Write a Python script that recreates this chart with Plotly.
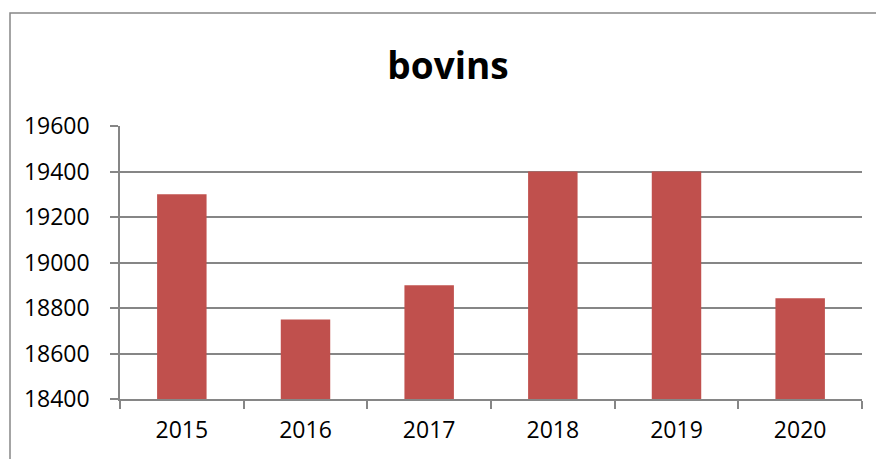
import plotly.graph_objects as go

# Data
years = ["2015", "2016", "2017", "2018", "2019", "2020"]
bovins = [19300, 18750, 18900, 19400, 19400, 18843]
y_ticks = [18400, 18600, 18800, 19000, 19200, 19400, 19600]

W, H = 876, 459
ML, MR, MT, MB = 120, 14, 126, 60
pw, ph = W - ML - MR, H - MT - MB

bar_color = "#C0504D"
grid_color = "#868686"
font_family = "Open Sans, Calibri, Carlito, Arial, sans-serif"

fig = go.Figure(
    go.Bar(
        x=years,
        y=bovins,
        marker=dict(color=bar_color, line=dict(width=0)),
        width=0.4,
    )
)

# Chart border (outer frame), in paper units relative to the plot area
x0 = (10 - ML) / pw
y1 = 1 + (MT - 13) / ph
x1 = 1 + (MR + 20) / pw
y0 = -(MB + 20) / ph

fig.update_layout(
    width=W,
    height=H,
    margin=dict(l=ML, r=MR, t=MT, b=MB, pad=0),
    paper_bgcolor="white",
    plot_bgcolor="white",
    showlegend=False,
    bargap=0.6,
    font=dict(family=font_family, size=23, color="black"),
    title=dict(
        text="<b>bovins</b>",
        x=448 / W,
        xanchor="center",
        y=1 - 66 / H,
        yanchor="middle",
        font=dict(family=font_family, size=37, color="black"),
    ),
    shapes=[
        dict(
            type="rect",
            xref="paper",
            yref="paper",
            x0=x0,
            x1=x1,
            y0=y0,
            y1=y1,
            line=dict(color="#878787", width=1.5),
            fillcolor="rgba(0,0,0,0)",
            layer="below",
        )
    ],
)

fig.update_xaxes(
    type="category",
    tickson="boundaries",
    ticks="outside",
    ticklen=8,
    tickwidth=1.5,
    tickcolor=grid_color,
    showline=True,
    linecolor=grid_color,
    linewidth=1.5,
    showgrid=False,
    ticklabelstandoff=10,
    tickfont=dict(size=23),
)

fig.update_yaxes(
    range=[18400, 19600],
    tickvals=y_ticks,
    ticktext=[str(v) for v in y_ticks],
    ticks="outside",
    ticklen=8,
    tickwidth=1.5,
    tickcolor=grid_color,
    showline=True,
    linecolor=grid_color,
    linewidth=1.5,
    showgrid=True,
    gridcolor=grid_color,
    gridwidth=1.5,
    zeroline=False,
    ticklabelstandoff=16,
    tickfont=dict(size=23),
)

fig.write_html("out.html")
